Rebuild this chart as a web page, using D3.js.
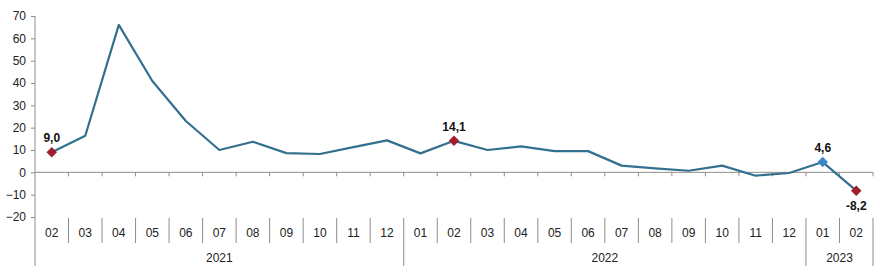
<!DOCTYPE html>
<html>
<head>
<meta charset="utf-8">
<script src="https://cdn.jsdelivr.net/npm/d3@7"></script>
<style>
  body { margin: 0; background: #fff; }
  svg { font-family: "Liberation Sans", Arial, sans-serif; }
</style>
</head>
<body>
<svg id="chart" width="880" height="280"></svg>
<script>
const months = ["02","03","04","05","06","07","08","09","10","11","12",
                "01","02","03","04","05","06","07","08","09","10","11","12",
                "01","02"]
const years = ["2021","2021","2021","2021","2021","2021","2021","2021","2021","2021","2021",
               "2022","2022","2022","2022","2022","2022","2022","2022","2022","2022","2022","2022",
               "2023","2023"]
const values = [9.0, 16.4, 66.0, 40.9, 23.0, 10.0, 13.7, 8.6, 8.2, 11.3, 14.3,
                8.5, 14.1, 10.0, 11.6, 9.5, 9.5, 3.0, 1.8, 0.7, 3.0, -1.5, -0.3,
                4.6, -8.2]
const yTicks = [-20, -10, 0, 10, 20, 30, 40, 50, 60, 70]
// highlighted points: index, label, marker colour, label side
const marked = [
    { i: 0, label: "9,0", color: "#a11d2b", pos: "above" },
    { i: 12, label: "14,1", color: "#a11d2b", pos: "above" },
    { i: 23, label: "4,6", color: "#3a87c8", pos: "above" },
    { i: 24, label: "-8,2", color: "#a11d2b", pos: "below" }
]

const margin = { left: 35, right: 7, top: 16 }
const width = 880
const svg = d3.select("#chart")

const ids = months.map((m, i) => i)
const x = d3.scaleBand()
    .domain(ids)
    .range([margin.left, width - margin.right])
    .padding(0)

const y = d3.scaleLinear()
    .domain([-20, 70])
    .range([217, 16])

const axisColor = "#8c8c8c"

// y axis
const yAxis = d3.axisLeft(y).tickValues(yTicks).tickSize(4).tickPadding(5)
const gy = svg.append("g")
    .attr("transform", "translate(" + margin.left + ",0)")
    .call(yAxis)
gy.select(".domain").remove()
gy.selectAll(".tick line").attr("stroke", axisColor)
gy.selectAll(".tick text")
    .attr("font-size", 12)
    .attr("fill", "#222")
gy.append("line")
    .attr("x1", 0).attr("x2", 0)
    .attr("y1", y(70)).attr("y2", 266)
    .attr("stroke", axisColor)

// zero line with ticks at band edges
svg.append("line")
    .attr("x1", margin.left).attr("x2", width - margin.right)
    .attr("y1", y(0)).attr("y2", y(0))
    .attr("stroke", axisColor)
svg.append("g")
    .selectAll("line")
    .data(ids.slice(1).concat([ids.length]))
    .join("line")
    .attr("x1", d => margin.left + d * x.bandwidth())
    .attr("x2", d => margin.left + d * x.bandwidth())
    .attr("y1", y(0)).attr("y2", y(0) + 4)
    .attr("stroke", axisColor)

// category axis: month labels and separators
const catTop = 218
svg.append("g")
    .selectAll("line")
    .data(ids.slice(1).concat([ids.length]))
    .join("line")
    .attr("x1", d => margin.left + d * x.bandwidth())
    .attr("x2", d => margin.left + d * x.bandwidth())
    .attr("y1", catTop)
    .attr("y2", d => (d === ids.length || years[d] !== years[d - 1]) ? 266 : 243)
    .attr("stroke", axisColor)

svg.append("g")
    .selectAll("text")
    .data(months)
    .join("text")
    .attr("x", (d, i) => x(i) + x.bandwidth() / 2)
    .attr("y", 237)
    .attr("text-anchor", "middle")
    .attr("font-size", 12)
    .attr("fill", "#222")
    .text(d => d)

const yearGroups = d3.groups(ids, i => years[i])
svg.append("g")
    .selectAll("text")
    .data(yearGroups)
    .join("text")
    .attr("x", d => (x(d[1][0]) + x(d[1][d[1].length - 1]) + x.bandwidth()) / 2)
    .attr("y", 262)
    .attr("text-anchor", "middle")
    .attr("font-size", 12)
    .attr("fill", "#222")
    .text(d => d[0])

// line
const line = d3.line()
    .x((d, i) => x(i) + x.bandwidth() / 2)
    .y(d => y(d))

svg.append("path")
    .datum(values)
    .attr("d", line)
    .attr("fill", "none")
    .attr("stroke", "#33708f")
    .attr("stroke-width", 2.2)
    .attr("stroke-linejoin", "round")

// markers and labels
const diamond = d3.symbol().type(d3.symbolDiamond2).size(70)
const mg = svg.append("g")
mg.selectAll("path")
    .data(marked)
    .join("path")
    .attr("d", diamond)
    .attr("transform", d => "translate(" + (x(d.i) + x.bandwidth() / 2) + "," + y(values[d.i]) + ")")
    .attr("fill", d => d.color)

mg.selectAll("text")
    .data(marked)
    .join("text")
    .attr("x", d => x(d.i) + x.bandwidth() / 2)
    .attr("y", d => d.pos === "above" ? y(values[d.i]) - 10 : y(values[d.i]) + 19)
    .attr("text-anchor", "middle")
    .attr("font-size", 12)
    .attr("font-weight", "bold")
    .attr("fill", "#111")
    .text(d => d.label)
</script>
</body>
</html>
